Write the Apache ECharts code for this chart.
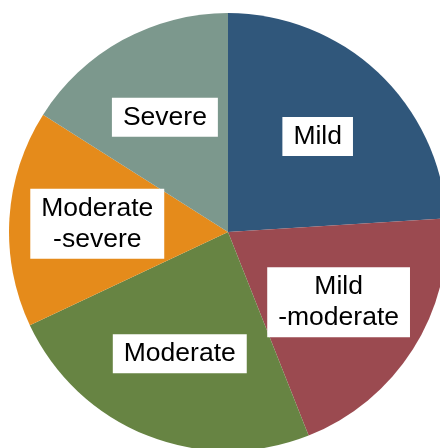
<!DOCTYPE html>
<html>
<head>
<meta charset="utf-8">
<script src="https://cdn.jsdelivr.net/npm/echarts@6/dist/echarts.min.js"></script>
<style>
  html, body { margin: 0; padding: 0; background: #fff; }
  #chart { width: 440px; height: 448px; }
</style>
</head>
<body>
<div id="chart"></div>
<script>
// severity shares, clockwise from 12 o'clock
const categories = ["Mild", "Mild\n-moderate", "Moderate", "Moderate\n-severe", "Severe"];
const shares = [24, 20, 24, 16, 16];
const colors = ["#30577b", "#9b4a50", "#678443", "#e58b1b", "#7c988d"];

const data = categories.map((name, i) => ({ name, value: shares[i], itemStyle: { color: colors[i] } }));
// same slices, transparent, only to place the boxed labels a bit further out than radius/2
const labelData = categories.map((name, i) => ({ name, value: shares[i] }));

const chart = echarts.init(document.getElementById("chart"));
chart.setOption({
  animation: false,
  series: [
    {
      type: "pie", center: [228, 232], radius: 219, startAngle: 90, clockwise: true,
      data, label: { show: false }, labelLine: { show: false }, silent: true,
    },
    {
      type: "pie", center: [228, 232], radius: [0, 256], startAngle: 90, clockwise: true,
      data: labelData, silent: true,
      itemStyle: { color: "transparent" },
      labelLine: { show: false },
      label: {
        show: true, position: "inside", formatter: "{b}",
        fontFamily: "Liberation Sans, Arial, sans-serif", fontSize: 26.5, lineHeight: 31,
        color: "#000", backgroundColor: "#fff", padding: [4, 11], align: "center",
      },
    },
  ],
});
</script>
</body>
</html>
